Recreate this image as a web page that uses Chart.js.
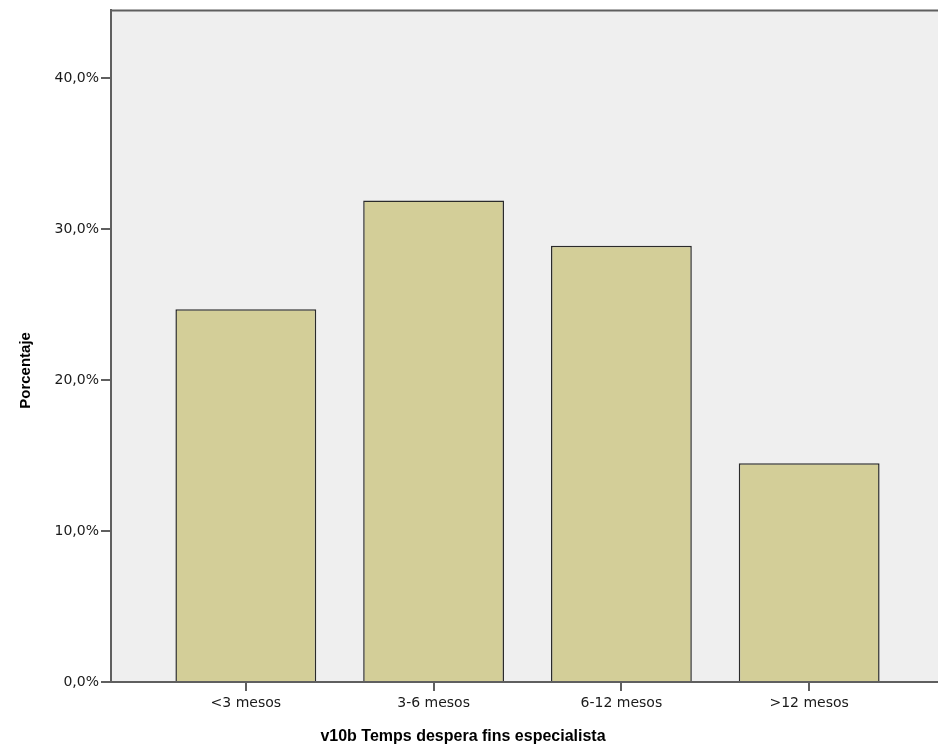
<!DOCTYPE html>
<html>
<head>
<meta charset="utf-8">
<script src="https://cdn.jsdelivr.net/npm/chart.js@4/dist/chart.umd.min.js"></script>
<style>
html,body{margin:0;padding:0;background:#fff;overflow:hidden;}
#wrap{width:946px;height:752px;}
</style>
</head>
<body>
<div id="wrap"><canvas id="c" width="946" height="752"></canvas></div>
<script>
const categories = ['<3 mesos', '3-6 mesos', '6-12 mesos', '>12 mesos'];
const percentages = [24.7, 31.9, 28.9, 14.5];
const yTicks = [0, 10, 20, 30, 40];
const xTitle = 'v10b Temps despera fins especialista';
const yTitle = 'Porcentaje';

const fmt = v => v.toFixed(1).replace('.', ',') + '%';

const bgPlugin = {
  id: 'bg',
  beforeDraw(chart) {
    const {ctx, chartArea: a} = chart;
    ctx.save();
    ctx.fillStyle = '#efefef';
    ctx.fillRect(a.left, a.top, a.right - a.left, a.bottom - a.top);
    ctx.restore();
  },
  afterDraw(chart) {
    const {ctx, chartArea: a} = chart;
    ctx.save();
    ctx.strokeStyle = '#5f5f5f';
    ctx.lineWidth = 2;
    ctx.beginPath();
    ctx.moveTo(a.left, a.bottom);
    ctx.lineTo(a.left, a.top);
    ctx.lineTo(a.right, a.top);
    ctx.lineTo(a.right, a.bottom);
    ctx.stroke();
    // titles
    ctx.fillStyle = '#000';
    ctx.textAlign = 'center';
    ctx.textBaseline = 'middle';
    ctx.font = 'bold 16px "Liberation Sans", Arial';
    ctx.fillText(xTitle, a.left + 352, 737);
    ctx.translate(26, a.top + 360);
    ctx.rotate(-Math.PI / 2);
    ctx.font = 'bold 15px "Liberation Sans", Arial';
    ctx.fillText(yTitle, 0, 0);
    ctx.restore();
  }
};

new Chart(document.getElementById('c'), {
  type: 'bar',
  data: {
    datasets: [{
      data: percentages.map((v, i) => ({x: i + 1, y: v})),
      backgroundColor: '#d3ce98',
      borderColor: '#2b2b2b',
      borderWidth: 1.5,
      barPercentage: 0.75,
      categoryPercentage: 1
    }]
  },
  options: {
    responsive: false,
    animation: false,
    layout: {padding: {top: 10, right: 2, left: 0, bottom: 0}},
    plugins: {legend: {display: false}, tooltip: {enabled: false}, title: {display: false}},
    scales: {
      x: {
        type: 'linear',
        min: 0.282,
        max: 4.718,
        offset: false,
        afterBuildTicks(s) { s.ticks = categories.map((c, i) => ({value: i + 1})); },
        afterFit(s) { s.height = 70; },
        ticks: {
          autoSkip: false, maxRotation: 0, padding: 4,
          color: '#1a1a1a',
          font: {family: '"DejaVu Sans"', size: 14},
          callback: v => categories[v - 1]
        },
        grid: {offset: false, drawOnChartArea: false, drawTicks: true, tickLength: 9, color: '#5f5f5f', lineWidth: 2},
        border: {display: true, color: '#5f5f5f', width: 2}
      },
      y: {
        min: 0,
        max: 44.5,
        afterBuildTicks(s) { s.ticks = yTicks.map(v => ({value: v})); },
        afterFit(s) { s.width = 111; },
        ticks: {
          padding: 2,
          color: '#1a1a1a',
          font: {family: '"DejaVu Sans"', size: 14},
          callback: v => fmt(v)
        },
        grid: {drawOnChartArea: false, drawTicks: true, tickLength: 10, color: '#5f5f5f', lineWidth: 2},
        border: {display: true, color: '#5f5f5f', width: 2}
      }
    }
  },
  plugins: [bgPlugin]
});
</script>
</body>
</html>
